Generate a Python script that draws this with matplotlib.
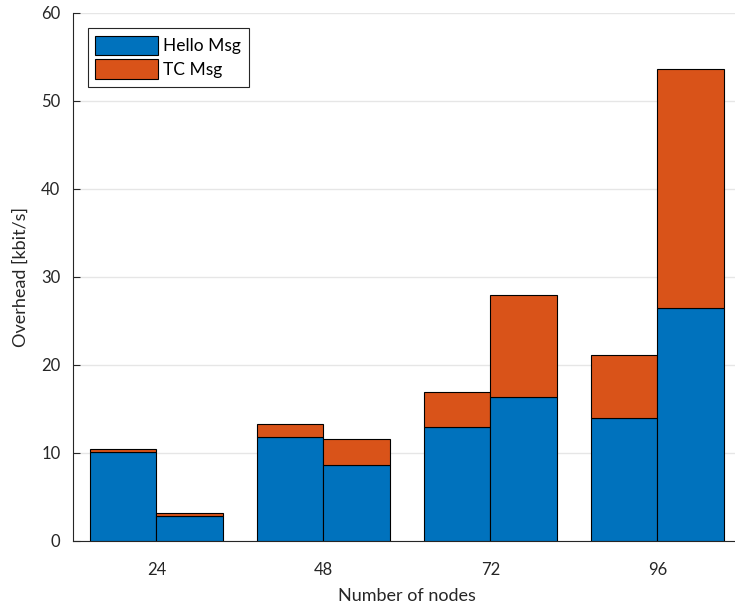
import numpy as np
import matplotlib
matplotlib.use("Agg")
import matplotlib.pyplot as plt

plt.rcParams['font.family'] = ['Lato', 'DejaVu Sans']

nodes = ["24", "48", "72", "96"]
# two protocol variants per node count, each stacked hello + tc
hello_a = [10.1, 11.8, 12.9, 14.0]
tc_a = [0.35, 1.5, 4.0, 7.1]
hello_b = [2.85, 8.65, 16.4, 26.45]
tc_b = [0.28, 2.9, 11.6, 27.2]

blue = "#0072BD"
orange = "#D95319"

fig = plt.figure(figsize=(7.35, 6.09), dpi=100)
ax = fig.add_axes([0.0993, 0.1117, 0.9088, 0.867])

x = np.arange(len(nodes))
w = 0.4
ax.bar(x - w / 2, hello_a, w, color=blue, edgecolor="black", linewidth=0.8, zorder=3, label="Hello Msg")
ax.bar(x - w / 2, tc_a, w, bottom=hello_a, color=orange, edgecolor="black", linewidth=0.8, zorder=3, label="TC Msg")
ax.bar(x + w / 2, hello_b, w, color=blue, edgecolor="black", linewidth=0.8, zorder=3)
ax.bar(x + w / 2, tc_b, w, bottom=hello_b, color=orange, edgecolor="black", linewidth=0.8, zorder=3)

ax.set_xlim(-0.5, 3.5)
ax.set_ylim(0, 60)
ax.set_xticks(x)
ax.set_xticklabels(nodes)
ax.set_yticks(np.arange(0, 61, 10))
ax.tick_params(axis="both", direction="in", labelsize=12, colors="#262626", length=5)
ax.tick_params(axis="y", pad=9)
ax.tick_params(axis="x", length=0, pad=15)
ax.grid(axis="y", color="#e6e6e6", linewidth=1, zorder=0)
for s in ["top", "right"]:
    ax.spines[s].set_visible(False)
for s in ["left", "bottom"]:
    ax.spines[s].set_color("#262626")
    ax.spines[s].set_linewidth(0.8)

ax.set_xlabel("Number of nodes", fontsize=13, color="#262626", labelpad=7)
ax.set_ylabel("Overhead [kbit/s]", fontsize=13, color="#262626", labelpad=9)

leg = ax.legend(loc="upper left", bbox_to_anchor=(0.022, 0.972), borderaxespad=0,
                fontsize=12.5, fancybox=False, edgecolor="#262626",
                handlelength=3.6, handleheight=1.35, handletextpad=0.3,
                borderpad=0.45, labelspacing=0.25, framealpha=1)
leg.get_frame().set_linewidth(0.8)

fig.savefig("out.png", dpi=100)
